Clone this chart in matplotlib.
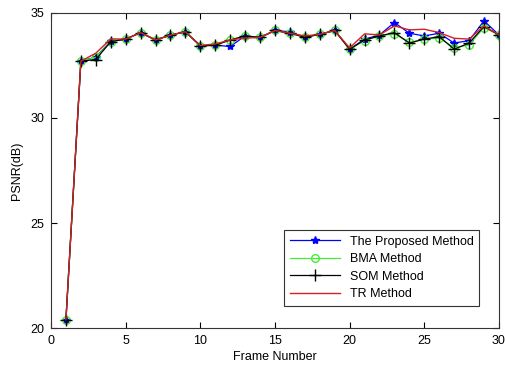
import matplotlib
matplotlib.use("Agg")
import matplotlib.pyplot as plt

# frame numbers 1..30
frames = list(range(1, 31))

# PSNR values
proposed = [20.4, 32.7, 32.9, 33.65, 33.75, 34.06, 33.71, 33.94, 34.1, 33.43,
            33.46, 33.4, 33.9, 33.83, 34.16, 34.1, 33.84, 33.98, 34.16, 33.27,
            33.75, 33.95, 34.54, 34.03, 33.9, 34.03, 33.56, 33.68, 34.62, 33.95]
bma = [20.4, 32.7, 32.88, 33.63, 33.75, 34.06, 33.71, 33.94, 34.1, 33.43,
       33.46, 33.71, 33.9, 33.83, 34.16, 34.03, 33.84, 33.98, 34.16, 33.27,
       33.68, 33.9, 34.0, 33.6, 33.75, 33.8, 33.35, 33.47, 34.3, 33.95]
som = [20.4, 32.7, 32.78, 33.63, 33.75, 34.06, 33.71, 33.94, 34.1, 33.43,
       33.46, 33.71, 33.9, 33.83, 34.16, 34.03, 33.84, 33.98, 34.16, 33.27,
       33.71, 33.9, 34.06, 33.56, 33.75, 33.87, 33.27, 33.56, 34.35, 33.95]
tr = [20.4, 32.7, 33.08, 33.76, 33.75, 34.06, 33.71, 33.94, 34.1, 33.45,
      33.52, 33.71, 33.8, 33.83, 34.16, 34.03, 33.9, 33.98, 34.16, 33.33,
      34.0, 33.95, 34.38, 34.19, 34.22, 34.06, 33.79, 33.75, 34.38, 33.95]

plt.rcParams['font.family'] = ['Liberation Sans', 'DejaVu Sans']

fig = plt.figure(figsize=(5.05, 3.67), dpi=100)
ax = fig.add_axes([0.101, 0.106, 0.887, 0.859])

ax.plot(frames, proposed, color='blue', marker='*', markersize=6, linewidth=0.9,
        label='The Proposed Method')
ax.plot(frames, bma, color='#44ee33', marker='o', markersize=5.5, markerfacecolor='none',
        linewidth=0.9, label='BMA Method')
ax.plot(frames, som, color='black', marker='+', markersize=8, linewidth=0.9,
        label='SOM Method')
ax.plot(frames, tr, color='#d42020', linewidth=1.0, label='TR Method')

ax.set_xlim(0, 30)
ax.set_ylim(20, 35)
ax.set_xticks([0, 5, 10, 15, 20, 25, 30])
ax.set_yticks([20, 25, 30, 35])
ax.tick_params(direction='in', top=True, right=True, labelsize=9, length=4)
ax.tick_params(axis='x', pad=5)
ax.tick_params(axis='y', pad=5)
for s in ax.spines.values():
    s.set_color('#333333')
ax.set_xlabel('Frame Number', fontsize=9, labelpad=3)
ax.set_ylabel('PSNR(dB)', fontsize=9, labelpad=5)

leg = ax.legend(loc='lower right', bbox_to_anchor=(479 / 505, 1 - 306 / 367),
                bbox_transform=fig.transFigure, borderaxespad=0,
                fontsize=9, fancybox=False, framealpha=1,
                edgecolor='#333333', handlelength=4,
                labelspacing=0.45, borderpad=0.45)
leg.get_frame().set_linewidth(0.8)

fig.savefig('out.png', dpi=100)
